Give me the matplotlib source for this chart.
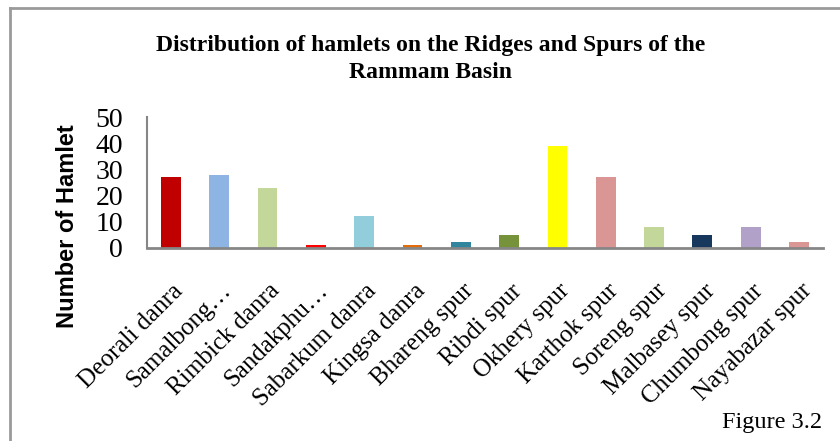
import matplotlib.pyplot as plt
import matplotlib.transforms as mtransforms
from matplotlib.lines import Line2D

# hamlets counted on each ridge (danra) and spur
places = ["Deorali danra", "Samalbong\u2026", "Rimbick danra", "Sandakphu\u2026",
          "Sabarkum danra", "Kingsa danra", "Bhareng spur", "Ribdi spur",
          "Okhery spur", "Karthok spur", "Soreng spur", "Malbasey spur",
          "Chumbong spur", "Nayabazar spur"]
hamlets = [27, 28, 23, 1, 12, 1, 2, 5, 39, 27, 8, 5, 8, 2]
bar_colors = ["#C00000", "#8DB4E2", "#C4D79B", "#FF0000", "#92CDDC", "#E26B0A",
              "#31859C", "#76933C", "#FFFF00", "#DA9694", "#C4D79B", "#17375D",
              "#B1A0C7", "#DA9694"]
y_ticks = [0, 10, 20, 30, 40, 50]

serif = "Liberation Serif"

fig = plt.figure(figsize=(8.4, 4.41), dpi=100)
ax = fig.add_axes([0.1746, 0.4383, 0.8054, 0.2957])

x = range(len(places))
ax.bar(x, hamlets, width=0.41, color=bar_colors)

ax.set_xlim(-0.5, len(places) - 0.5)
ax.set_ylim(0, 50)
ax.set_yticks(y_ticks)
ax.set_yticklabels([str(v) for v in y_ticks], fontfamily=serif, fontsize=20)
ax.tick_params(axis="y", length=0, pad=17)
ax.tick_params(axis="x", length=0, pad=2)

ax.set_xticks(list(x))
ax.set_xticklabels(places, fontfamily=serif, fontsize=18, rotation=45,
                   ha="right", va="center", rotation_mode="anchor")
shift = mtransforms.ScaledTranslation(9 / 100, -37 / 100, fig.dpi_scale_trans)
for lbl in ax.get_xticklabels():
    lbl.set_transform(lbl.get_transform() + shift)

for side in ["top", "right"]:
    ax.spines[side].set_visible(False)
ax.spines["left"].set_color("#868686")
ax.spines["bottom"].set_color("#868686")
ax.spines["left"].set_linewidth(1.5)
ax.spines["bottom"].set_linewidth(2)

fig.text(0.0798, 0.487, "Number of Hamlet", rotation=90, ha="center", va="center",
         fontfamily="Liberation Sans", fontweight="bold", fontsize=17)

fig.text(0.513, 0.866, "Distribution of hamlets on the Ridges and Spurs of the\nRammam Basin",
         ha="center", va="center", fontfamily=serif, fontweight="bold", fontsize=17,
         linespacing=1.38)

fig.text(0.979, 0.041, "Figure 3.2", ha="right", va="center", fontfamily=serif, fontsize=17.5)

# chart frame: top and left edges only
fig.add_artist(Line2D([0.012, 1.0], [0.982, 0.982], color="#9a9a9a", lw=2,
                      transform=fig.transFigure))
fig.add_artist(Line2D([0.012, 0.012], [0.0, 0.982], color="#9a9a9a", lw=2,
                      transform=fig.transFigure))

fig.savefig("out.png", dpi=100)
